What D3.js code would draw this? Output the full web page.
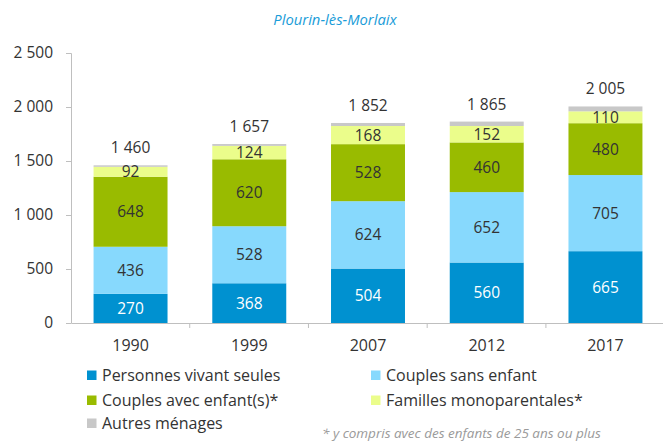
<!DOCTYPE html>
<html>
<head>
<meta charset="utf-8">
<script src="https://cdn.jsdelivr.net/npm/d3@7"></script>
<style>
  body { margin: 0; background: #fff; }
  svg { font-family: "Open Sans", sans-serif; }
</style>
</head>
<body>
<svg width="663" height="441"></svg>
<script>
const years = ["1990", "1999", "2007", "2012", "2017"];
const seules = [270, 368, 504, 560, 665];
const sansEnfant = [436, 528, 624, 652, 705];
const avecEnfants = [648, 620, 528, 460, 480];
const monoparentales = [92, 124, 168, 152, 110];
const autres = [14, 17, 28, 41, 45];
const totals = [1460, 1657, 1852, 1865, 2005];
const yTicks = [0, 500, 1000, 1500, 2000, 2500];

const seriesNames = ["Personnes vivant seules", "Couples sans enfant", "Couples avec enfant(s)*", "Familles monoparentales*", "Autres ménages"];
const colors = ["#0091d0", "#87d9fd", "#99bb00", "#ebfd8b", "#c8c8c8"];
const seriesValues = [seules, sansEnfant, avecEnfants, monoparentales, autres];

const fmt = v => d3.format(",")(v).replace(/,/g, " ");

const svg = d3.select("svg");
const margin = {left: 71, top: 53};
const plotH = 270;

const g = svg.append("g").attr("transform", `translate(${margin.left},${margin.top})`);

const x = d3.scaleBand().domain(years).range([0, 594]).paddingInner(0.377).paddingOuter(0.19);
const y = d3.scaleLinear().domain([0, 2500]).range([plotH, 0]);

// title
svg.append("text")
  .attr("x", 335).attr("y", 25)
  .attr("text-anchor", "middle")
  .attr("font-size", 14.8).attr("font-style", "italic")
  .attr("fill", "#1a9cd8")
  .text("Plourin-lès-Morlaix");

// stack
const rows = years.map((yr, i) => {
  const r = {year: yr};
  seriesNames.forEach((s, k) => r[s] = seriesValues[k][i]);
  return r;
});
const stacked = d3.stack().keys(seriesNames)(rows);

const layers = g.selectAll(".layer").data(stacked).join("g")
  .attr("fill", (d, i) => colors[i]);

layers.selectAll("rect").data(d => d).join("rect")
  .attr("x", d => x(d.data.year))
  .attr("width", x.bandwidth())
  .attr("y", d => y(d[1]))
  .attr("height", d => y(d[0]) - y(d[1]));

// value labels inside segments (not for "Autres ménages")
stacked.slice(0, 4).forEach((layer, k) => {
  g.append("g").selectAll("text").data(layer).join("text")
    .attr("x", d => x(d.data.year) + x.bandwidth() / 2)
    .attr("y", d => (y(d[0]) + y(d[1])) / 2)
    .attr("dy", "0.36em")
    .attr("text-anchor", "middle")
    .attr("font-size", 15.5)
    .attr("fill", k === 0 ? "#ffffff" : "#333333")
    .text(d => d[1] - d[0]);
});

// totals
g.append("g").selectAll("text").data(years).join("text")
  .attr("x", d => x(d) + x.bandwidth() / 2)
  .attr("y", (d, i) => y(totals[i]) - 12)
  .attr("text-anchor", "middle")
  .attr("font-size", 15.5)
  .attr("fill", "#333")
  .text((d, i) => fmt(totals[i]));

// y axis
const yAxis = g.append("g")
  .call(d3.axisLeft(y).tickValues(yTicks).tickSize(5).tickPadding(13).tickFormat(fmt));
yAxis.select(".domain").attr("stroke", "#bfbfbf").attr("d", `M-5,0.5H0.5V${plotH + 0.5}`);
yAxis.selectAll(".tick line").attr("stroke", "#bfbfbf");
yAxis.selectAll("text").attr("font-size", 15.5).attr("fill", "#333").attr("font-family", "Open Sans");

// x axis
const xAxis = g.append("g").attr("transform", `translate(0,${plotH})`)
  .call(d3.axisBottom(x).tickSize(0).tickPadding(17));
xAxis.select(".domain").attr("stroke", "#bfbfbf");
xAxis.selectAll("text").attr("font-size", 16).attr("fill", "#333").attr("font-family", "Open Sans");
const step = x.step();
const x0 = x(years[0]) - x.paddingOuter() * step;
xAxis.selectAll(".sep").data(d3.range(1, years.length)).join("line")
  .attr("x1", i => x0 + i * step)
  .attr("x2", i => x0 + i * step)
  .attr("y1", 0).attr("y2", 5)
  .attr("stroke", "#bfbfbf");

// legend
const legendPos = [[87, 375], [371, 375], [87, 400], [371, 400], [87, 423]];
const legend = svg.append("g").selectAll("g").data(seriesNames).join("g")
  .attr("transform", (d, i) => `translate(${legendPos[i][0]},${legendPos[i][1]})`);
legend.append("rect")
  .attr("x", 0).attr("y", -4.5).attr("width", 9.5).attr("height", 9.5)
  .attr("fill", (d, i) => colors[i]);
legend.append("text")
  .attr("x", 15).attr("dy", "0.36em")
  .attr("font-size", 16).attr("fill", "#333")
  .text(d => d);

svg.append("text")
  .attr("x", 322).attr("y", 438)
  .attr("font-size", 13.5).attr("font-style", "italic")
  .attr("fill", "#9a9a9a")
  .text("* y compris avec des enfants de 25 ans ou plus");
</script>
</body>
</html>
